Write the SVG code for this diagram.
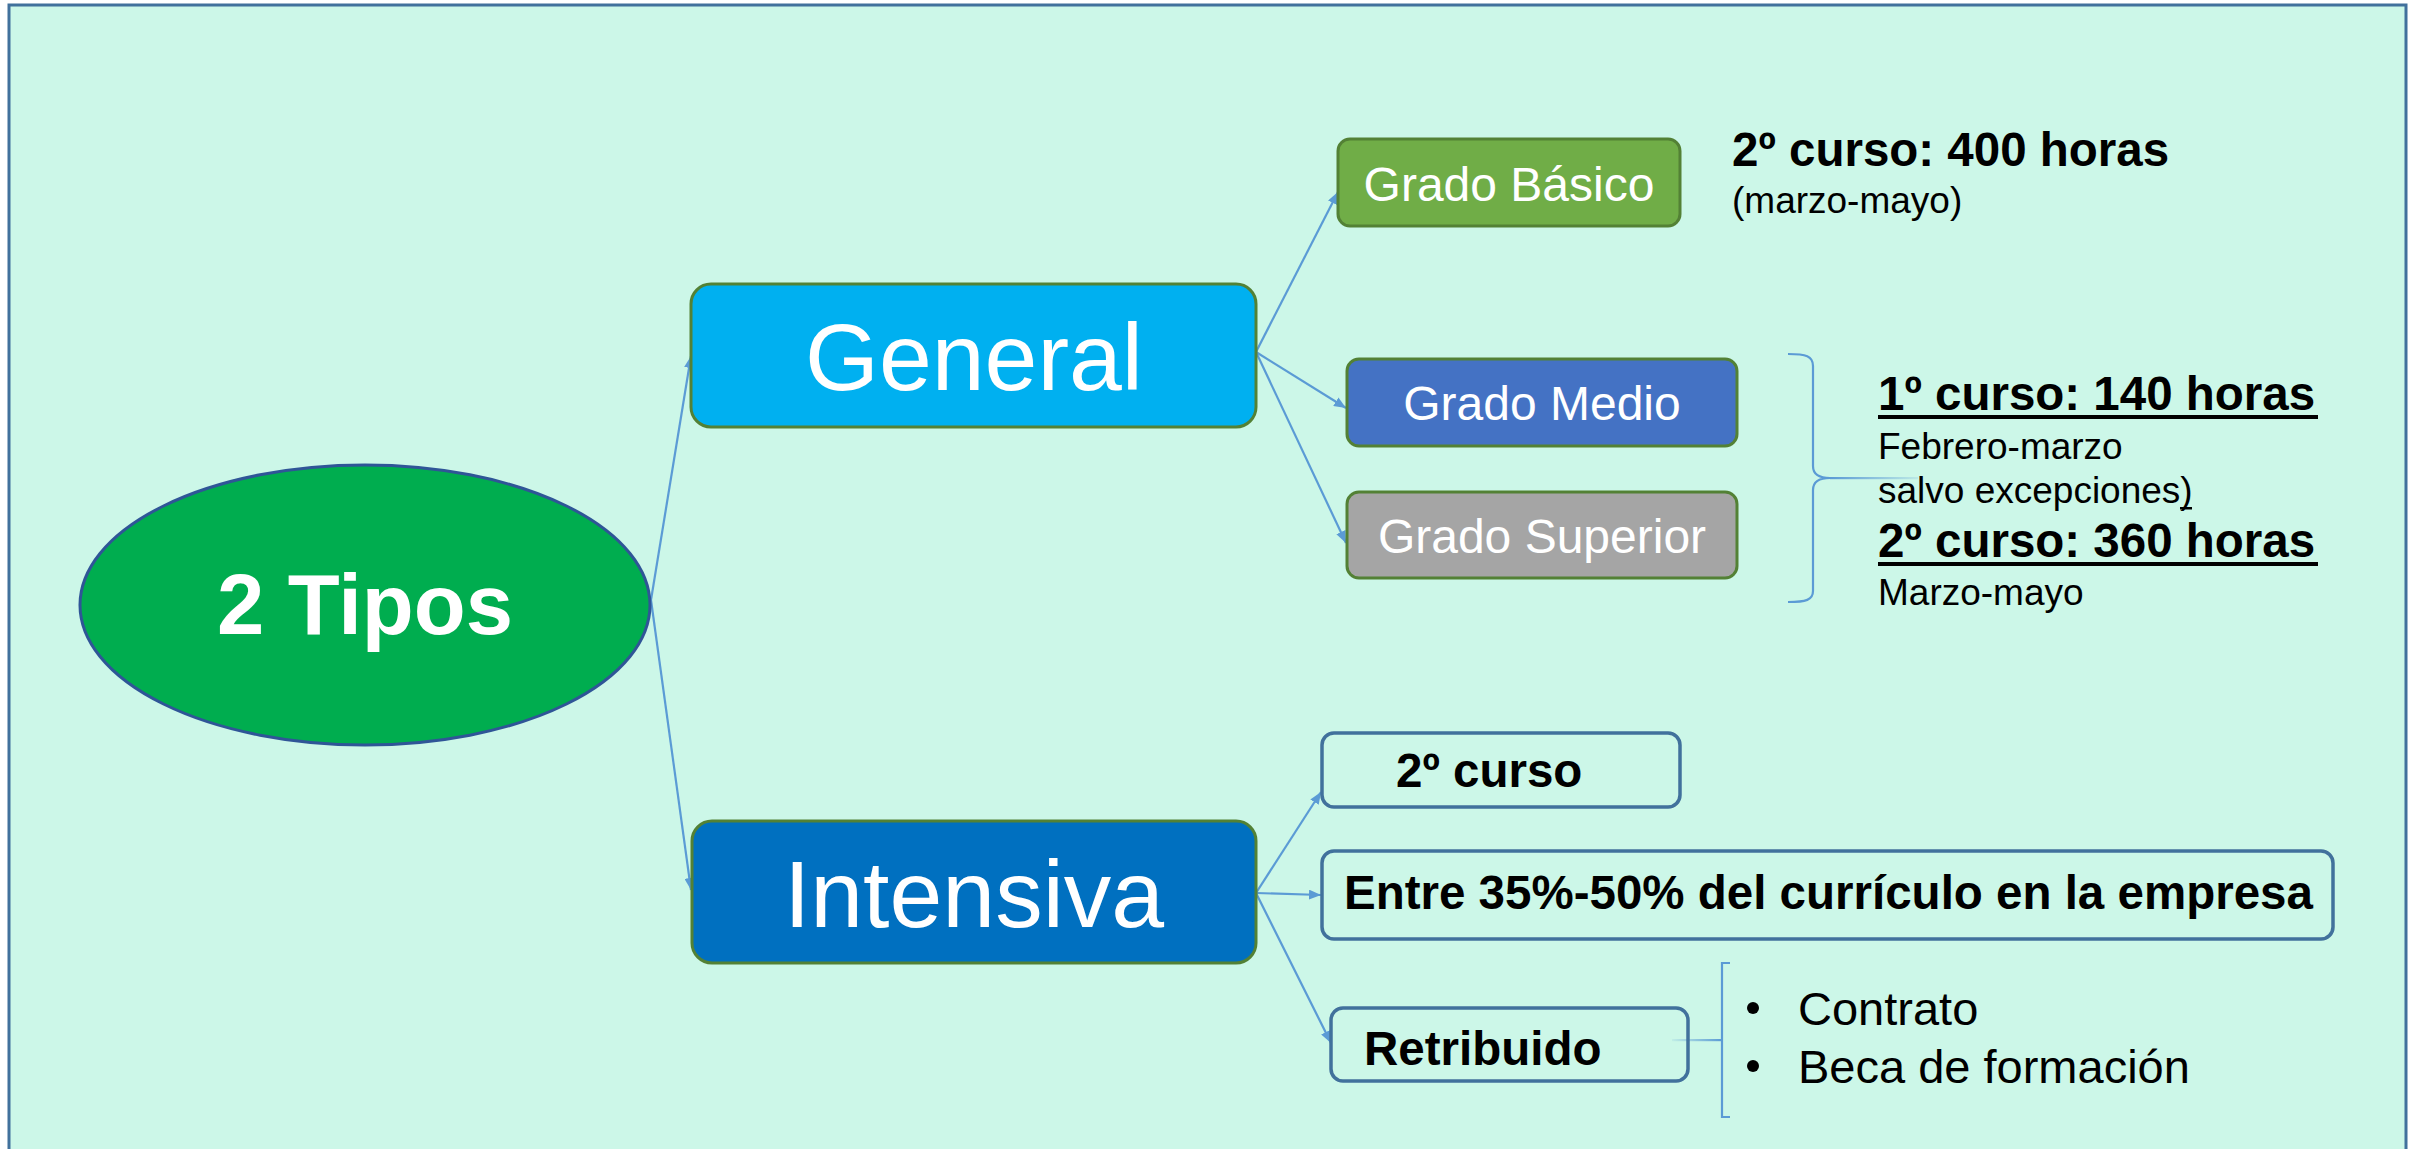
<svg xmlns="http://www.w3.org/2000/svg" width="2415" height="1149" viewBox="0 0 2415 1149">
<defs>
<style>
.conn{stroke:#5B9BD5;stroke-width:2.2;fill:none}
.gbox{stroke:#538135;stroke-width:3}
.obox{fill:none;stroke:#41719C;stroke-width:3.5}
.wt{font-family:"Liberation Sans",Arial,sans-serif;fill:#FFFFFF}
.bt{font-family:"Liberation Sans",Arial,sans-serif;fill:#000000;font-weight:bold;font-size:47.5px}
.st{font-family:"Liberation Sans",Arial,sans-serif;fill:#000000;font-size:37px}
.bl{font-family:"Liberation Sans",Arial,sans-serif;fill:#000000;font-size:47px}
</style>
<marker id="arr" markerWidth="12" markerHeight="10" refX="12" refY="5" orient="auto" markerUnits="userSpaceOnUse">
<path d="M0,0 L12,5 L0,10 Z" fill="#5B9BD5"/>
</marker>
<linearGradient id="fadeR" x1="0" y1="0" x2="1" y2="0">
<stop offset="0" stop-color="#5B9BD5" stop-opacity="1"/>
<stop offset="1" stop-color="#5B9BD5" stop-opacity="0.15"/>
</linearGradient>
<linearGradient id="fadeL" x1="0" y1="0" x2="1" y2="0">
<stop offset="0" stop-color="#5B9BD5" stop-opacity="0.1"/>
<stop offset="1" stop-color="#5B9BD5" stop-opacity="1"/>
</linearGradient>
</defs>
<rect x="0" y="0" width="2415" height="1149" fill="#FFFFFF"/>
<rect id="frame" x="9" y="5" width="2397" height="1170" fill="#CCF7E8" stroke="#41719C" stroke-width="3"/>

<g id="connectors">
<line class="conn" x1="651" y1="600" x2="691" y2="356" marker-end="url(#arr)"/>
<line class="conn" x1="651" y1="600" x2="691" y2="890" marker-end="url(#arr)"/>
<line class="conn" x1="1256" y1="352" x2="1338" y2="192" marker-end="url(#arr)"/>
<line class="conn" x1="1256" y1="352" x2="1346" y2="408" marker-end="url(#arr)"/>
<line class="conn" x1="1256" y1="352" x2="1346" y2="543" marker-end="url(#arr)"/>
<line class="conn" x1="1256" y1="893" x2="1321" y2="792" marker-end="url(#arr)"/>
<line class="conn" x1="1256" y1="893" x2="1321" y2="895" marker-end="url(#arr)"/>
<line class="conn" x1="1256" y1="893" x2="1331" y2="1043" marker-end="url(#arr)"/>
<path class="conn" d="M1788,354 C1806,354 1813,356 1813,366 L1813,466 C1813,474 1818,478 1830,478 C1818,478 1813,482 1813,490 L1813,591 C1813,600 1806,602 1788,602"/>
<rect x="1830" y="477" width="88" height="2.2" fill="url(#fadeR)"/>
<path class="conn" d="M1730,963 L1722,963 L1722,1117 L1730,1117"/>
<rect x="1672" y="1039" width="50" height="2.2" fill="url(#fadeL)"/>
</g>

<g id="node-tipos">
<ellipse cx="365" cy="605" rx="285" ry="140" fill="#00AD4F" stroke="#2F5597" stroke-width="3"/>
<text class="wt" x="365" y="634" font-size="85" font-weight="bold" text-anchor="middle">2 Tipos</text>
</g>

<g id="node-general">
<rect class="gbox" x="691" y="284" width="565" height="143" rx="20" fill="#00B0F0"/>
<text class="wt" x="974" y="390" font-size="95" text-anchor="middle">General</text>
</g>

<g id="node-intensiva">
<rect class="gbox" x="692" y="821" width="564" height="142" rx="20" fill="#0070C0"/>
<text class="wt" x="974" y="927" font-size="95" text-anchor="middle">Intensiva</text>
</g>

<g id="node-basico">
<rect class="gbox" x="1338" y="139" width="342" height="87" rx="12" fill="#70AD47"/>
<text class="wt" x="1509" y="201" font-size="48" text-anchor="middle">Grado Básico</text>
</g>

<g id="node-medio">
<rect class="gbox" x="1347" y="359" width="390" height="87" rx="12" fill="#4472C4"/>
<text class="wt" x="1542" y="420" font-size="48" text-anchor="middle">Grado Medio</text>
</g>

<g id="node-superior">
<rect class="gbox" x="1347" y="492" width="390" height="86" rx="12" fill="#A5A5A5"/>
<text class="wt" x="1542" y="553" font-size="48" text-anchor="middle">Grado Superior</text>
</g>

<g id="note-basico">
<text class="bt" x="1732" y="166">2º curso: 400 horas</text>
<text class="st" x="1732" y="213">(marzo-mayo)</text>
</g>

<g id="note-medio-superior">
<text class="bt" x="1878" y="410">1º curso: 140 horas</text>
<rect x="1878" y="415" width="440" height="4" fill="#000000"/>
<text class="st" x="1878" y="459">Febrero-marzo</text>
<text class="st" x="1878" y="503">salvo excepciones)</text>
<rect x="2180" y="507" width="12" height="2.5" fill="#000000"/>
<text class="bt" x="1878" y="557">2º curso: 360 horas</text>
<rect x="1878" y="562" width="440" height="4" fill="#000000"/>
<text class="st" x="1878" y="605">Marzo-mayo</text>
</g>

<g id="node-curso2">
<rect class="obox" x="1322" y="733" width="358" height="74" rx="12"/>
<text class="bt" x="1396" y="787">2º curso</text>
</g>

<g id="node-entre">
<rect class="obox" x="1322" y="851" width="1011" height="88" rx="12"/>
<text class="bt" x="1344" y="909">Entre 35%-50% del currículo en la empresa</text>
</g>

<g id="node-retribuido">
<rect class="obox" x="1331" y="1008" width="357" height="73" rx="12"/>
<text class="bt" x="1364" y="1065">Retribuido</text>
</g>

<g id="note-retribuido">
<circle cx="1753" cy="1008" r="6" fill="#000000"/>
<text class="bl" x="1798" y="1025">Contrato</text>
<circle cx="1753" cy="1066" r="6" fill="#000000"/>
<text class="bl" x="1798" y="1083">Beca de formación</text>
</g>
</svg>
